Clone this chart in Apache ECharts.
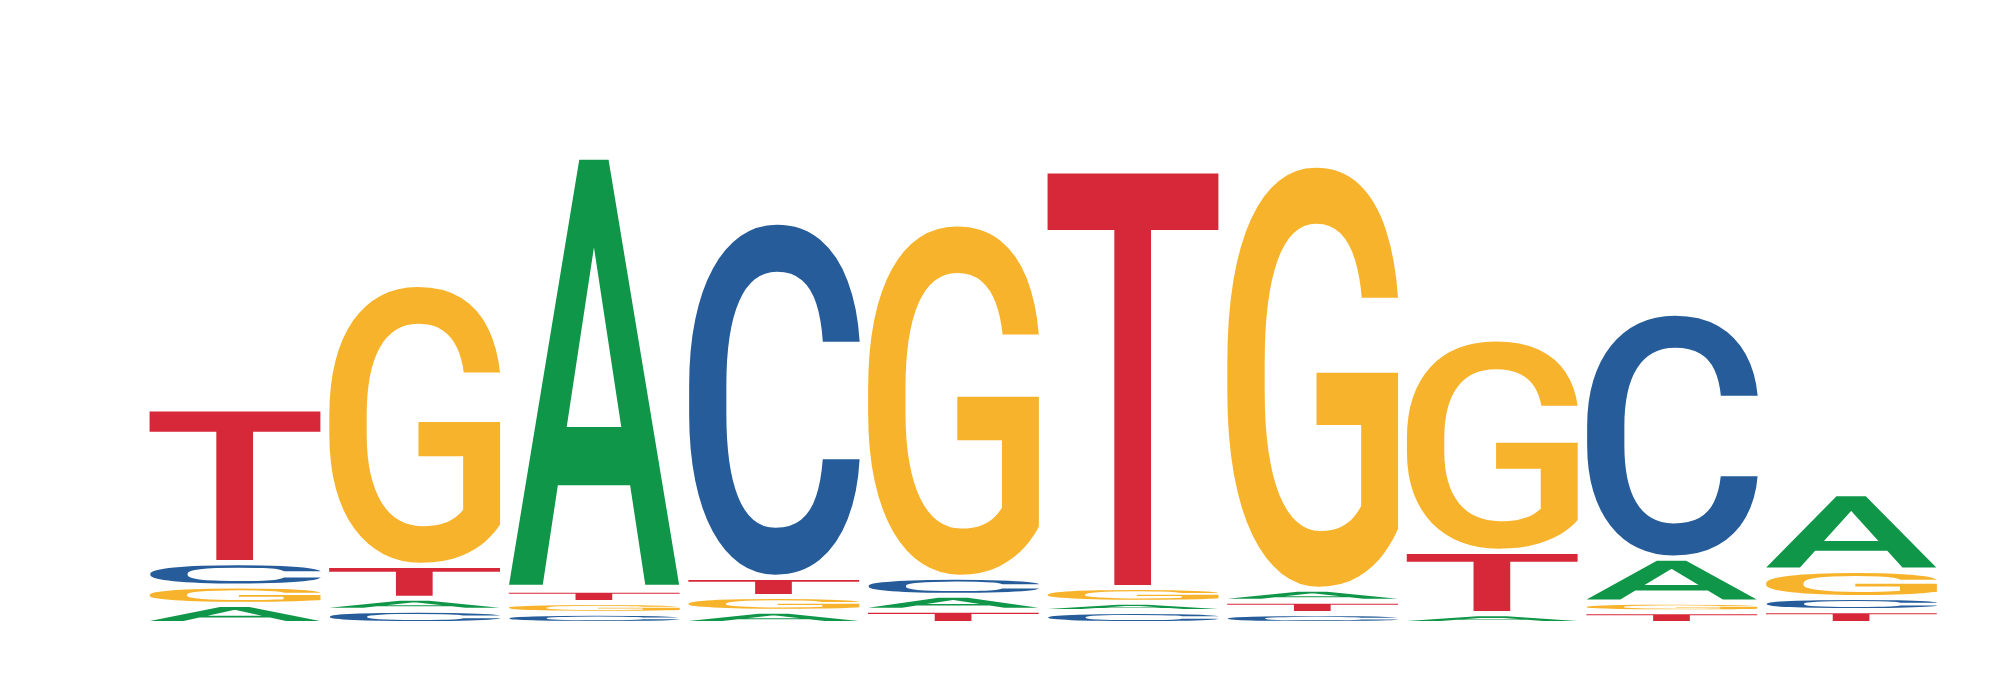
<!DOCTYPE html>
<html>
<head>
<meta charset="utf-8">
<script src="https://cdn.jsdelivr.net/npm/echarts@6/dist/echarts.min.js"></script>
<style>
  html, body { margin: 0; background: #fff; }
  #chart { width: 2000px; height: 682px; }
</style>
</head>
<body>
<div id="chart"></div>
<script>
// sequence logo: letter heights in bits, per position
const positions = [1, 2, 3, 4, 5, 6, 7, 8, 9, 10];
const heightA = [0.064, 0.040, 1.451, 0.041, 0.050, 0.031, 0.040, 0.033, 0.147, 0.257];
const heightC = [0.078, 0.044, 0.034, 1.190, 0.060, 0.040, 0.033, 0.000, 0.821, 0.044];
const heightG = [0.061, 0.941, 0.036, 0.049, 1.184, 0.049, 1.421, 0.711, 0.032, 0.090];
const heightT = [0.515, 0.110, 0.041, 0.064, 0.044, 1.396, 0.041, 0.208, 0.039, 0.043];
// stacking order, bottom to top
const stackOrder = ['AGCT', 'CATG', 'CGTA', 'AGTC', 'TACG', 'CAGT', 'CTAG', 'CATG', 'TGAC', 'TCGA'];

const LETTERS = ['A', 'C', 'G', 'T'];
const HEIGHTS = { A: heightA, C: heightC, G: heightG, T: heightT };
const COLORS = { A: '#109648', C: '#255C99', G: '#F7B32B', T: '#D62839' };
const FONT = '500 200px Roboto';
const GAP = 5;          // px left blank above each letter
const LETTER_W = 0.958; // share of a column taken by a letter

// ink box of each glyph, relative to a left / middle anchor
const mctx = document.createElement('canvas').getContext('2d');
mctx.font = FONT; mctx.textAlign = 'left'; mctx.textBaseline = 'middle';
const ink = {};
for (const L of LETTERS) {
  const m = mctx.measureText(L);
  ink[L] = { l: -m.actualBoundingBoxLeft, r: m.actualBoundingBoxRight,
             t: -m.actualBoundingBoxAscent, b: m.actualBoundingBoxDescent };
}

const data = [];
positions.forEach((p, i) => {
  let base = 0;
  for (const L of stackOrder[i]) {
    const h = HEIGHTS[L][i];
    data.push([p, base, base + h, LETTERS.indexOf(L)]);
    base += h;
  }
});

function renderLetter(params, api) {
  const x = api.value(0), y0 = api.value(1), y1 = api.value(2);
  const L = LETTERS[api.value(3)];
  const pB = api.coord([x, y0]), pT = api.coord([x, y1]);
  const w = api.size([LETTER_W, 0])[0];
  const left = pB[0] - w / 2;
  const top = pT[1] + GAP, bottom = pB[1];
  if (bottom - top <= 0.5) return;
  const g = ink[L];
  const sx = w / (g.r - g.l), sy = (bottom - top) / (g.b - g.t);
  return {
    type: 'text', silent: true,
    x: left - sx * g.l, y: top - sy * g.t, scaleX: sx, scaleY: sy,
    style: { text: L, x: 0, y: 0, font: FONT, fill: COLORS[L],
             align: 'left', verticalAlign: 'middle', textAlign: 'left', textVerticalAlign: 'middle' },
  };
}

const chart = echarts.init(document.getElementById('chart'), null, { renderer: 'canvas' });
chart.setOption({
  animation: false,
  grid: { left: 145.2, right: 58.8, top: 21, bottom: 61 },
  xAxis: { type: 'value', min: 0.5, max: 10.5, show: false },
  yAxis: { type: 'value', min: 0, max: 2, show: false },
  series: [{ type: 'custom', renderItem: renderLetter, data: data, clip: false }],
});
</script>
</body>
</html>
